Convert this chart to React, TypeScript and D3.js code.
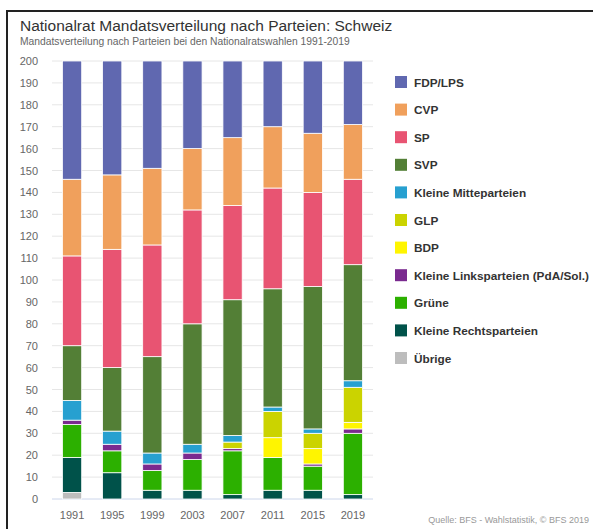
import * as d3 from "d3";
import React, { useEffect, useRef } from "react";

// Wahljahre
const years = ["1991", "1995", "1999", "2003", "2007", "2011", "2015", "2019"];

// Parteien, von unten nach oben gestapelt
const parties = [
  "Übrige",
  "Kleine Rechtsparteien",
  "Grüne",
  "Kleine Linksparteien (PdA/Sol.)",
  "BDP",
  "GLP",
  "Kleine Mitteparteien",
  "SVP",
  "SP",
  "CVP",
  "FDP/LPS",
];

const partyColors = [
  "#bdbdbd",
  "#00524a",
  "#2cb000",
  "#7a2a8f",
  "#fff500",
  "#cbd300",
  "#27a0d0",
  "#537f36",
  "#e85472",
  "#f0a05c",
  "#6068b0",
];

// Sitze je Jahr (gleiche Reihenfolge wie years)
const uebrige = [3, 0, 0, 0, 0, 0, 0, 0];
const kleineRechts = [16, 12, 4, 4, 2, 4, 4, 2];
const gruene = [15, 10, 9, 14, 20, 15, 11, 28];
const kleineLinks = [2, 3, 3, 3, 1, 0, 1, 2];
const bdp = [0, 0, 0, 0, 0, 9, 7, 3];
const glp = [0, 0, 0, 0, 3, 12, 7, 16];
const kleineMitte = [9, 6, 5, 4, 3, 2, 2, 3];
const svp = [25, 29, 44, 55, 62, 54, 65, 53];
const sp = [41, 54, 51, 52, 43, 46, 43, 39];
const cvp = [35, 34, 35, 28, 31, 28, 27, 25];
const fdp = [54, 52, 49, 40, 35, 30, 33, 29];

const seats = [uebrige, kleineRechts, gruene, kleineLinks, bdp, glp, kleineMitte, svp, sp, cvp, fdp];

// Legende: von oben nach unten
const legendOrder = [...parties].reverse();

export default function App() {
  const svgRef = useRef<SVGSVGElement>(null);

  useEffect(() => {
    const svg = d3.select(svgRef.current);
    svg.selectAll("*").remove();

    const width = 593;
    const height = 529;
    const margin = { top: 61, left: 52, right: 220, bottom: 30 };
    const plotW = width - margin.left - margin.right;
    const plotH = height - margin.top - margin.bottom;
    const font = "'Liberation Sans', Arial, sans-serif";

    svg.append("rect").attr("width", width).attr("height", height).attr("fill", "#fff");

    // Rahmen (Screenshot-Kante)
    svg.append("line").attr("x1", 7).attr("x2", width).attr("y1", 11).attr("y2", 11)
      .attr("stroke", "#222").attr("stroke-width", 2);
    svg.append("line").attr("x1", 7).attr("x2", 7).attr("y1", 10).attr("y2", height)
      .attr("stroke", "#222").attr("stroke-width", 2);

    // Titel
    svg.append("text")
      .attr("x", 20).attr("y", 31)
      .style("font-family", font).style("font-size", "15.5px").attr("fill", "#333")
      .text("Nationalrat Mandatsverteilung nach Parteien: Schweiz");
    svg.append("text")
      .attr("x", 20).attr("y", 45)
      .style("font-family", font).style("font-size", "10.3px").attr("fill", "#666")
      .text("Mandatsverteilung nach Parteien bei den Nationalratswahlen 1991-2019");

    const g = svg.append("g").attr("transform", `translate(${margin.left},${margin.top})`);

    const x = d3.scaleBand().domain(years).range([0, plotW]).paddingInner(0.52).paddingOuter(0.26);
    const y = d3.scaleLinear().domain([0, 200]).range([plotH, 0]);

    // Gitter
    const ticks = d3.range(0, 201, 10);
    g.selectAll(".grid").data(ticks).join("line")
      .attr("x1", 0).attr("x2", plotW)
      .attr("y1", d => y(d)).attr("y2", d => y(d))
      .attr("stroke", d => (d === 0 ? "#ccd6eb" : "#e6e6e6")).attr("stroke-width", 1);

    // Y-Achse
    g.selectAll(".ylab").data(ticks).join("text")
      .attr("x", -14).attr("y", d => y(d) + 4)
      .attr("text-anchor", "end")
      .style("font-family", font).style("font-size", "11px").attr("fill", "#666")
      .text(d => d);

    // X-Achse
    g.selectAll(".xlab").data(years).join("text")
      .attr("x", d => x(d)! + x.bandwidth() / 2).attr("y", plotH + 20)
      .attr("text-anchor", "middle")
      .style("font-family", font).style("font-size", "11px").attr("fill", "#666")
      .text(d => d);

    // Stapel
    const table = years.map((yr, i) => {
      const row: Record<string, number | string> = { year: yr };
      parties.forEach((p, k) => (row[p] = seats[k][i]));
      return row;
    });
    const stack = d3.stack<any>().keys(parties)(table);

    g.selectAll(".layer").data(stack).join("g")
      .attr("fill", (_, k) => partyColors[k])
      .selectAll("rect").data(d => d.filter(s => s[1] - s[0] > 0)).join("rect")
      .attr("x", d => x(d.data.year as string)!)
      .attr("width", x.bandwidth())
      .attr("y", d => y(d[1]))
      .attr("height", d => y(d[0]) - y(d[1]))
      .attr("stroke", "#fff").attr("stroke-width", 0.8);

    // Legende
    const lg = svg.append("g").attr("transform", "translate(395,76)");
    const item = lg.selectAll(".item").data(legendOrder).join("g")
      .attr("transform", (_, i) => `translate(0,${i * 27.6})`);
    item.append("rect").attr("width", 12).attr("height", 12).attr("y", 0)
      .attr("fill", d => partyColors[parties.indexOf(d)]);
    item.append("text").attr("x", 19).attr("y", 10.5)
      .style("font-family", font).style("font-size", "11.8px").style("font-weight", "bold")
      .attr("fill", "#333").text(d => d);

    // Quelle
    svg.append("text")
      .attr("x", 589).attr("y", 523).attr("text-anchor", "end")
      .style("font-family", font).style("font-size", "9px").attr("fill", "#999")
      .text("Quelle: BFS - Wahlstatistik, © BFS 2019");
  }, []);

  return (
    <div style={{ position: "absolute", left: 0, top: 0 }}>
      <svg ref={svgRef} width={593} height={529} style={{ display: "block" }}></svg>
    </div>
  );
}
